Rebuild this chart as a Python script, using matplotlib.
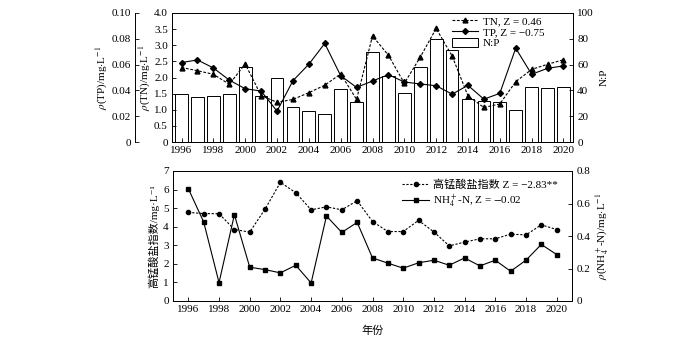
import numpy as np
import matplotlib
matplotlib.use("Agg")
import matplotlib.pyplot as plt

plt.rcParams['font.family'] = ['Liberation Serif', 'Noto Sans CJK SC', 'DejaVu Sans']
plt.rcParams['mathtext.fontset'] = 'stix'
plt.rcParams['font.size'] = 8
plt.rcParams['axes.unicode_minus'] = True

years = np.arange(1996, 2021)
tick_years = np.arange(1996, 2021, 2)

# top panel
np_ratio = [37, 35, 36, 37, 58, 36, 50, 27, 24, 22, 41, 31, 70, 51, 38,
            58, 80, 71, 33, 32, 31, 25, 43, 42, 43]
tn = [2.31, 2.21, 2.10, 1.79, 2.42, 1.44, 1.23, 1.32, 1.53, 1.76, 2.11, 1.32, 3.29,
      2.69, 1.82, 2.63, 3.52, 2.67, 1.43, 1.07, 1.18, 1.87, 2.25, 2.41, 2.55]
tp = [0.0616, 0.0636, 0.0574, 0.048, 0.0413, 0.0395, 0.0239, 0.0475, 0.0603, 0.0764,
      0.0514, 0.0423, 0.0473, 0.0522, 0.0465, 0.045, 0.0436, 0.0371, 0.0439, 0.0332,
      0.0377, 0.0727, 0.0525, 0.0571, 0.059]

# bottom panel
codmn = [4.77, 4.71, 4.70, 3.85, 3.71, 4.95, 6.39, 5.83, 4.91, 5.07, 4.91, 5.40, 4.28,
         3.74, 3.74, 4.34, 3.72, 2.97, 3.17, 3.35, 3.35, 3.60, 3.56, 4.10, 3.85]
nh4 = [0.691, 0.486, 0.113, 0.531, 0.208, 0.193, 0.173, 0.220, 0.111, 0.523, 0.422,
       0.484, 0.265, 0.233, 0.202, 0.235, 0.251, 0.220, 0.265, 0.216, 0.251, 0.183,
       0.251, 0.348, 0.286]

fig = plt.figure(figsize=(7.0, 3.37), dpi=100)
W, H = 700.0, 337.0

def box(l, t, r, b):
    return [l / W, 1 - b / H, (r - l) / W, (b - t) / H]

def style(ax):
    ax.tick_params(direction='in', length=3, width=0.6, labelsize=8, pad=3)
    for s in ax.spines.values():
        s.set_linewidth(0.7)

# ---- top ----
ax_np = fig.add_axes(box(172, 13, 573, 142))
ax_tn = ax_np.twinx()
ax_tp = ax_np.twinx()

ax_np.bar(years, np_ratio, width=0.8, facecolor='white', edgecolor='black',
          linewidth=0.7, label='N:P')
ax_np.set_ylim(0, 100)
ax_np.set_yticks(np.arange(0, 101, 20))
ax_np.yaxis.tick_right()
ax_np.yaxis.set_label_position('right')
ax_np.set_ylabel('N:P', fontsize=8, labelpad=4)

ax_tn.plot(years, tn, linestyle=(0, (2.5, 1.5)), color='black', linewidth=0.8,
           marker='^', markersize=3.5, label='TN, Z = 0.46')
ax_tn.set_ylim(0, 4.0)
ax_tn.set_yticks(np.arange(0, 4.01, 0.5))
ax_tn.set_yticklabels(['0'] + ['%.1f' % v for v in np.arange(0.5, 4.01, 0.5)])
ax_tn.yaxis.tick_left()
ax_tn.yaxis.set_label_position('left')
ax_tn.set_ylabel(r'$\rho$(TN)/mg$\cdot$L$^{-1}$', fontsize=8, labelpad=1)

ax_tp.plot(years, tp, linestyle='-', color='black', linewidth=0.8,
           marker='D', markersize=3, label='TP, Z = \u22120.75')
ax_tp.set_ylim(0, 0.10)
ax_tp.set_yticks(np.arange(0, 0.101, 0.02))
ax_tp.set_yticklabels(['0', '0.02', '0.04', '0.06', '0.08', '0.10'])
ax_tp.yaxis.tick_left()
ax_tp.yaxis.set_label_position('left')
ax_tp.spines['left'].set_position(('axes', -0.092))
for s in ['top', 'right', 'bottom']:
    ax_tp.spines[s].set_visible(False)
ax_tp.set_ylabel(r'$\rho$(TP)/mg$\cdot$L$^{-1}$', fontsize=8, labelpad=1)

for a in (ax_np, ax_tn, ax_tp):
    style(a)
ax_tn.set_zorder(ax_np.get_zorder() + 1)
ax_tp.set_zorder(ax_np.get_zorder() + 2)
ax_tn.patch.set_visible(False)
ax_tp.patch.set_visible(False)

ax_np.set_xlim(1995.4, 2020.6)
ax_np.set_xticks(tick_years)
ax_np.set_xticklabels([str(y) for y in tick_years])

h1, l1 = ax_tn.get_legend_handles_labels()
h2, l2 = ax_tp.get_legend_handles_labels()
h3, l3 = ax_np.get_legend_handles_labels()
ax_tp.legend(h1 + h2 + h3, l1 + l2 + l3, loc='upper right', frameon=False,
             fontsize=8, handlelength=2.4, handleheight=0.8, handletextpad=0.4,
             borderpad=0.1, labelspacing=0.1,
             bbox_to_anchor=(0.945, 1.03))

# ---- bottom ----
ax_c = fig.add_axes(box(173, 171, 572, 301))
ax_n = ax_c.twinx()

ax_c.plot(years, codmn, linestyle=(0, (2, 1.5)), color='black', linewidth=0.8,
          marker='o', markersize=3, label='高锰酸盐指数 Z = \u22122.83**')
ax_n.plot(years, nh4, linestyle='-', color='black', linewidth=0.8,
          marker='s', markersize=3, label=r'NH$_4^+$-N, Z = $-$0.02')

ax_c.set_ylim(0, 7)
ax_c.set_yticks(np.arange(0, 8, 1))
ax_n.set_ylim(0, 0.8)
ax_n.set_yticks(np.arange(0, 0.81, 0.2))
ax_n.set_yticklabels(['0', '0.2', '0.4', '0.6', '0.8'])
ax_c.set_xlim(1995, 2021)
ax_c.set_xticks(tick_years)
ax_c.set_xticklabels([str(y) for y in tick_years])

ax_c.set_ylabel('高锰酸盐指数/mg\u00b7L\u207b\u00b9', fontsize=8, labelpad=3)
ax_n.set_ylabel(r'$\rho$(NH$_4^+$-N)/mg$\cdot$L$^{-1}$', fontsize=8, labelpad=3)
ax_c.set_xlabel('年份', fontsize=8, labelpad=8)
style(ax_c)
style(ax_n)

h1, l1 = ax_c.get_legend_handles_labels()
h2, l2 = ax_n.get_legend_handles_labels()
ax_n.legend(h1 + h2, l1 + l2, loc='upper right', frameon=False, fontsize=8,
            handlelength=2.4, handletextpad=0.4, borderpad=0.2, labelspacing=0.3,
            bbox_to_anchor=(0.985, 1.0))

fig.savefig('out.png', dpi=100)
